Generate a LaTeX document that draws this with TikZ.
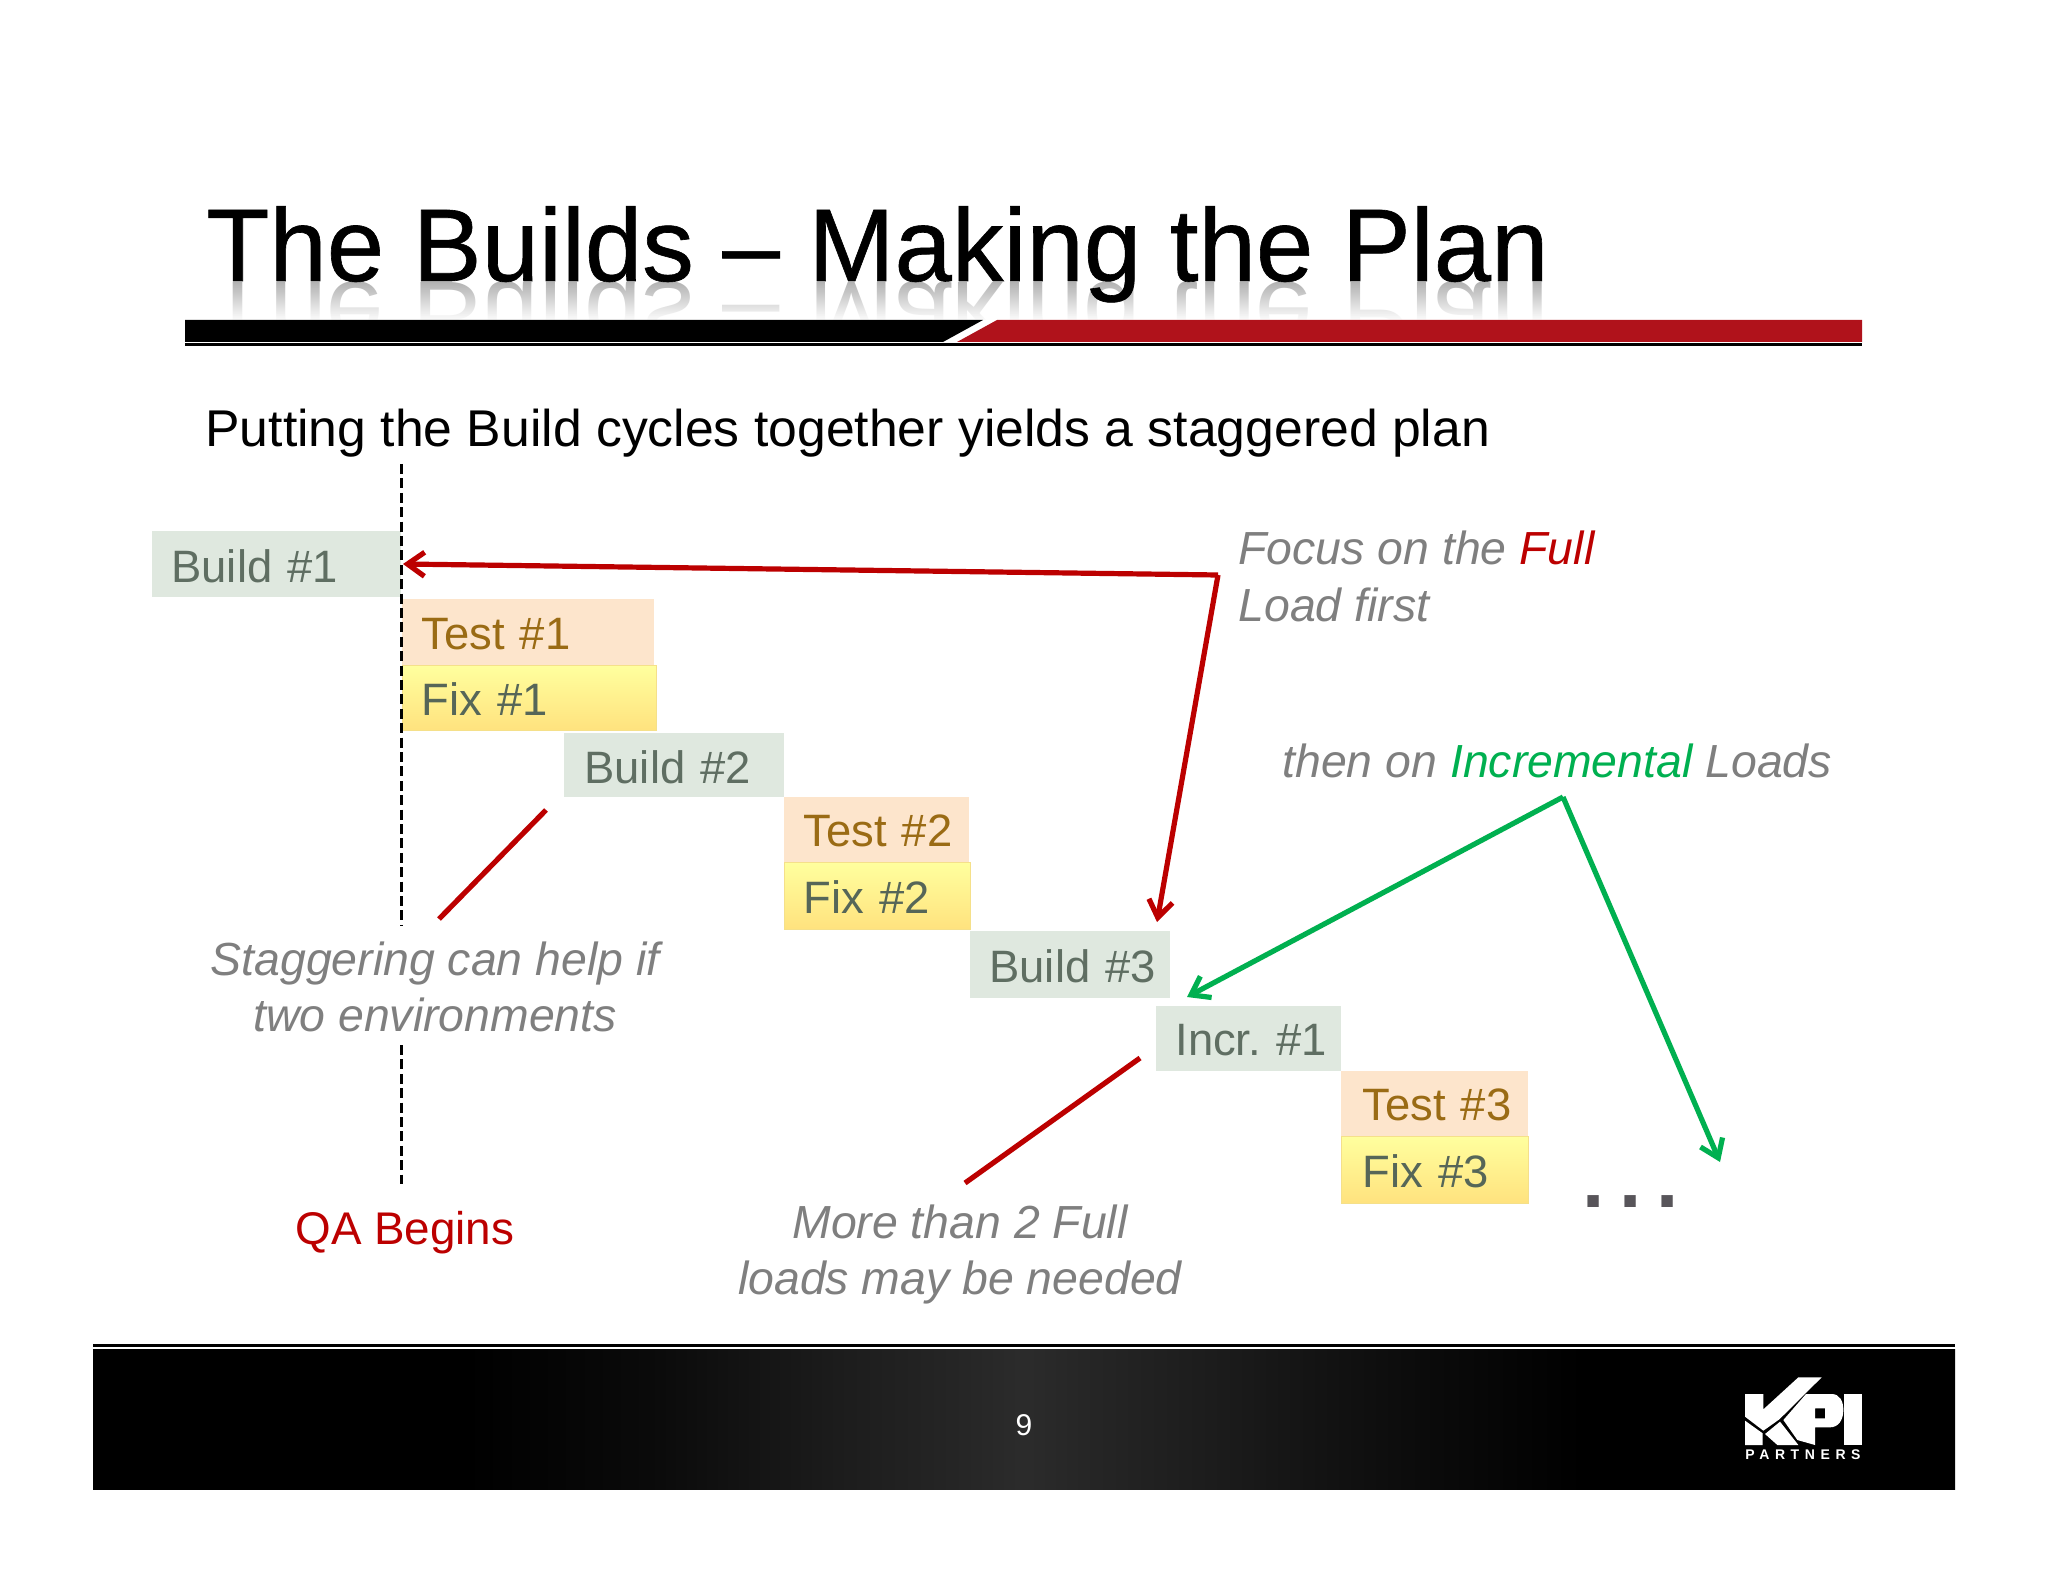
\documentclass[tikz,border=0pt]{standalone}
\usepackage{fontspec}
\setmainfont{Liberation Sans}
\usetikzlibrary{arrows.meta,fadings,calc}
\frenchspacing
\definecolor{kred}{HTML}{BC0000}
\definecolor{kbar}{HTML}{B0121B}
\definecolor{kgreen}{HTML}{00B050}
\definecolor{kgrey}{HTML}{7F7F7F}
\definecolor{bldfill}{HTML}{DFE8DF}
\definecolor{tstfill}{HTML}{FDE5CC}
\definecolor{bldtext}{HTML}{5F6E62}
\definecolor{tsttext}{HTML}{9A6B14}
\definecolor{fixtext}{HTML}{566658}
\definecolor{fixtop}{HTML}{FFFF9E}
\definecolor{fixbot}{HTML}{FFE27E}
\definecolor{fixline}{HTML}{F5E08A}
\definecolor{dotgrey}{HTML}{58555A}
\pgfdeclarehorizontalshading{footshade}{100bp}{color(0bp)=(black);color(35bp)=(black);color(40bp)=(black!96!white);color(45bp)=(black!89!white);color(48.5bp)=(black!85!white);color(50bp)=(black!83!white);color(51.5bp)=(black!85!white);color(55bp)=(black!89!white);color(60bp)=(black!95!white);color(65bp)=(black);color(100bp)=(black)}
\tikzset{
 x=.5pt,y=-.5pt,
 labelfont/.style={font=\fontsize{22.9}{27}\selectfont},
 cellfont/.style={font=\fontsize{22.7}{27}\selectfont},
 itfont/.style={font=\fontsize{23.2}{27}\selectfont\itshape},
 cell/.style={cellfont,anchor=north west,inner ysep=0pt,inner xsep=0pt,align=left},
 buildcell/.style={cell,fill=bldfill,text=bldtext},
 testcell/.style={cell,fill=tstfill,text=tsttext},
 fixcell/.style={cell,top color=fixtop,bottom color=fixbot,draw=fixline,line width=.5pt,text=fixtext},
 note/.style={itfont,inner sep=0pt,anchor=base west,text=kgrey},
 notec/.style={itfont,inner sep=0pt,anchor=base,text=kgrey},
 redarrow/.style={draw=kred,line width=2.6pt,-{Straight Barb[length=8.5pt,width=12pt,line width=2.6pt]}},
 greenarrow/.style={draw=kgreen,line width=2.6pt,-{Straight Barb[length=8.5pt,width=12pt,line width=2.6pt]}},
 redrule/.style={draw=kred,line width=2.6pt},
 qaline/.style={draw=black,line width=1.5pt,dash pattern=on 5pt off 2.2pt},
}
\newcommand{\cellnode}[8]{% name,style,x,y,w,h,pad,text
 \pgfmathsetlengthmacro{\cw}{#5*.5pt}\pgfmathsetlengthmacro{\ch}{#6*.5pt}\pgfmathsetlengthmacro{\cp}{#7*.5pt}%
 \node[#2,minimum height=\ch,text width=\cw] (#1) at (#3,#4) {\hspace*{\cp}\raisebox{-.7pt}[\height][\depth]{#8}};}
\begin{document}
\begin{tikzpicture}
\useasboundingbox[fill=white] (0,0) rectangle (2048,1582);
% title reflection
\begin{scope}
\clip (190,283) rectangle (1600,320);
\node[yscale=-1,transform shape,inner sep=0pt,anchor=base west,opacity=.3,text=black,font=\fontsize{51.6}{60}\selectfont] (titlerefl) at (206,283) {The Builds -- Making the Plan};
\fill[white,path fading=north] (190,282) rectangle (1600,321);
\end{scope}
% title
\node[inner sep=0pt,anchor=base west,font=\fontsize{51.6}{60}\selectfont\addfontfeature{FakeBold=.6}] (title) at (206,281) {The Builds -- Making the Plan};
% bar
\fill[black] (185,320) -- (983,320) -- (943,342) -- (185,342) -- cycle;
\fill[kbar] (997,320) -- (1862,320) -- (1862,342) -- (957,342) -- cycle;
\fill[black] (185,343.5) rectangle (1862,346);
% subtitle
\node[inner sep=0pt,anchor=base west,font=\fontsize{25.85}{30}\selectfont] (sub) at (205,447) {Putting the Build cycles together yields a staggered plan};
% QA line
\coordinate (qa1) at (401,464);
\coordinate (qa2) at (401,925);
\coordinate (qa3) at (401,1045);
\coordinate (qa4) at (401,1184);
% cells
\cellnode{b1}{buildcell}{151.5}{531}{249.5}{66}{19.5}{Build \#1}
\cellnode{t1}{testcell}{402}{599}{252}{66}{19}{Test \#1}
\cellnode{f1}{fixcell}{402}{665}{254}{65}{19}{Fix \#1}
\cellnode{b2}{buildcell}{564}{733}{220}{64}{20}{Build \#2}
\cellnode{t2}{testcell}{784}{797}{185}{65}{19}{Test \#2}
\cellnode{f2}{fixcell}{784}{862}{186}{67}{19}{Fix \#2}
\cellnode{b3}{buildcell}{970}{931}{200}{67}{19}{Build \#3}
\cellnode{i1}{buildcell}{1156}{1006}{185}{65}{19}{Incr. \#1}
\cellnode{t3}{testcell}{1341}{1071}{187}{65}{21}{Test \#3}
\cellnode{f3}{fixcell}{1341}{1136}{187}{67}{21}{Fix \#3}
\draw[qaline] (qa1) -- (qa2);
\draw[qaline] (qa3) -- (qa4);
% notes
\node[note] (n1a) at (1238,565) {Focus on the \textcolor{kred}{Full}};
\node[note] (n1b) at (1238,621) {Load first};
\node[note] (n2) at (1282,777) {then on \textcolor{kgreen}{Incremental} Loads};
\node[notec] (n3a) at (435,975) {Staggering can help if};
\node[notec] (n3b) at (435,1031) {two environments};
\node[notec] (n4a) at (960,1238) {More than 2 Full};
\node[notec] (n4b) at (960,1294) {loads may be needed};
\node[labelfont,inner sep=0pt,anchor=base west,text=kred] (qa) at (295,1244) {QA Begins};
\node[inner sep=0pt,anchor=base west,text=dotgrey,font=\fontsize{40}{40}\selectfont\bfseries] (dots) at (1582,1207) {.\hspace{7.5pt}.\hspace{7.5pt}.};
% connectors
\coordinate (rj) at (1218,575);
\coordinate (rA) at (403,564);
\coordinate (rB) at (1157,922);
\coordinate (gj) at (1563,797);
\coordinate (gA) at (1187,997);
\coordinate (gB) at (1720,1162);
\coordinate (s1) at (546,810);
\coordinate (s2) at (439,919);
\coordinate (s3) at (1140,1058);
\coordinate (s4) at (965,1183);
\draw[redarrow] (rj) -- (rA);
\draw[redarrow] (rj) -- (rB);
\draw[greenarrow] (gj) -- (gA);
\draw[greenarrow] (gj) -- (gB);
\draw[redrule] (s1) -- (s2);
\draw[redrule] (s3) -- (s4);
% footer
\fill[black] (93,1344) rectangle (1955,1346.5);
\shade[shading=footshade] (93,1349) rectangle (1955,1489);
\node[inner sep=0pt,anchor=center,text=white,font=\fontsize{15}{18}\selectfont] (page) at (1024,1425) {9};
% logo
\begin{scope}[shift={(1700,1340)},x=.16667pt,y=-.16667pt]
\fill[white] (135,162) -- (190,162) -- (190,208) -- (295,112) -- (365,112) -- (238,238) -- (190,272) -- (135,230) -- cycle;
\fill[white] (135,242) -- (188,280) -- (188,315) -- (135,315) -- cycle;
\fill[white] (195,282) -- (240,245) -- (295,315) -- (232,315) -- cycle;
\fill[white,even odd rule] (318,162) -- (395,162) .. controls (420,162) and (430,185) .. (430,210) .. controls (430,240) and (415,262) .. (390,262) -- (345,262) -- (345,315) -- (292,300) -- (250,240) -- cycle (345,205) rectangle (375,235);
\fill[white] (432,162) rectangle (487,315);
\node[inner sep=0pt,anchor=base west,text=white,font=\fontsize{7}{8}\selectfont\bfseries\addfontfeature{LetterSpace=40}] (partners) at (135,358) {PARTNERS};
\end{scope}
\end{tikzpicture}
\end{document}
